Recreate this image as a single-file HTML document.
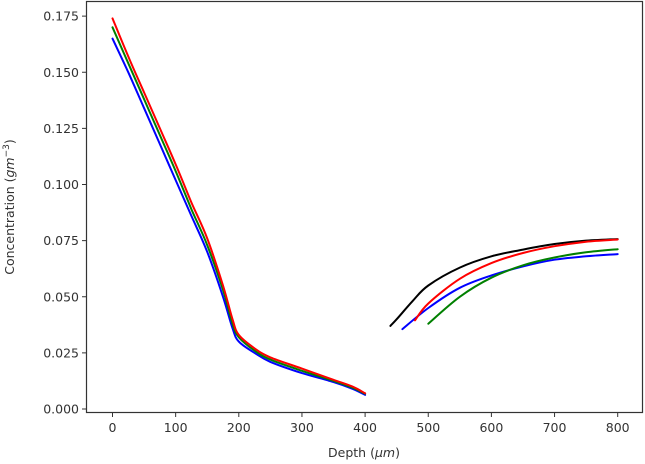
<!DOCTYPE html>
<html><head><meta charset="utf-8"><style>
body{margin:0;background:#fff}
svg{display:block;font-family:"DejaVu Sans","Liberation Sans",sans-serif}
</style></head><body>
<svg id="chart" width="645" height="464"></svg>
<script>
const xTicks=[0,100,200,300,400,500,600,700,800];
const yTicks=[0,0.025,0.05,0.075,0.1,0.125,0.15,0.175];
const yTickLabels=["0.000","0.025","0.050","0.075","0.100","0.125","0.150","0.175"];
const leftDepth=[0,25,50,75,100,125,150,175,190,200,225,250,300,350,380,400];
const leftRed=[0.174,0.157,0.141,0.125,0.109,0.092,0.076,0.055,0.040,0.033,0.027,0.023,0.018,0.013,0.010,0.007];
const leftGreen=[0.170,0.154,0.138,0.122,0.106,0.089,0.073,0.053,0.038,0.032,0.026,0.022,0.017,0.0125,0.0095,0.0068];
const leftBlue=[0.165,0.150,0.134,0.118,0.102,0.086,0.070,0.050,0.036,0.030,0.025,0.021,0.016,0.012,0.009,0.0063];
const blackDepth=[440,450,475,500,550,600,650,700,750,800];
const blackVals=[0.037,0.040,0.048,0.055,0.063,0.068,0.071,0.0735,0.075,0.0757];
const redDepth=[479,500,550,600,650,700,750,800];
const redVals=[0.0395,0.047,0.058,0.065,0.0695,0.0725,0.0745,0.0755];
const blueDepth=[459,500,550,600,650,700,750,800];
const blueVals=[0.0356,0.045,0.054,0.0595,0.0635,0.0665,0.068,0.069];
const greenDepth=[500,550,600,650,700,750,800];
const greenVals=[0.038,0.050,0.0585,0.064,0.0675,0.0698,0.0712];

const svg=document.getElementById('chart');
const NS='http://www.w3.org/2000/svg';
const X=d=>112.5+d*0.6315;
const Y=v=>409-v*2245;
function mk(tag,attrs,parent){const e=document.createElementNS(NS,tag);for(const k in attrs)e.setAttribute(k,attrs[k]);(parent||svg).appendChild(e);return e;}

function smoothPath(xs,ys){
  const p=xs.map((d,i)=>[X(d),Y(ys[i])]);
  let s='M'+p[0][0].toFixed(1)+','+p[0][1].toFixed(1);
  for(let i=0;i<p.length-1;i++){
    const p0=p[i-1]||p[i],p1=p[i],p2=p[i+1],p3=p[i+2]||p[i+1];
    const c1=[p1[0]+(p2[0]-p0[0])/6,p1[1]+(p2[1]-p0[1])/6];
    const c2=[p2[0]-(p3[0]-p1[0])/6,p2[1]-(p3[1]-p1[1])/6];
    s+=' C'+c1.map(v=>v.toFixed(1)).join(',')+' '+c2.map(v=>v.toFixed(1)).join(',')+' '+p2[0].toFixed(1)+','+p2[1].toFixed(1);
  }
  return s;
}
function line(xs,ys,color,name){
  const p=mk('path',{d:smoothPath(xs,ys),fill:'none',stroke:color,'stroke-width':2,'stroke-linejoin':'round','stroke-linecap':'round'});
  
  
}
line(leftDepth,leftBlue,'#0000ff','blue-line-left');
line(leftDepth,leftGreen,'#008000','green-line-left');
line(leftDepth,leftRed,'#ff0000','red-line-left');
line(blackDepth,blackVals,'#000000','black-line-right');
line(blueDepth,blueVals,'#0000ff','blue-line-right');
line(redDepth,redVals,'#ff0000','red-line-right');
line(greenDepth,greenVals,'#008000','green-line-right');

const frame=mk('rect',{x:86.5,y:1.5,width:556,height:411,fill:'none',stroke:'#333','stroke-width':1.2});



xTicks.forEach(t=>{
  mk('line',{x1:X(t),x2:X(t),y1:412.5,y2:417,stroke:'#333'});
  const tx=mk('text',{x:X(t),y:432,'text-anchor':'middle','font-size':12.5,fill:'#333'});
  tx.textContent=t;
  
  
});
yTicks.forEach((t,i)=>{
  mk('line',{x1:82,x2:86.5,y1:Y(t),y2:Y(t),stroke:'#333'});
  const tx=mk('text',{x:79,y:Y(t)+4.5,'text-anchor':'end','font-size':12.5,fill:'#333'});
  tx.textContent=yTickLabels[i];
  
  
});
const xl=mk('text',{x:364,y:457,'text-anchor':'middle','font-size':12.5,fill:'#333'});
xl.innerHTML='Depth (<tspan font-style="italic">μm</tspan>)';


const yl=mk('text',{x:0,y:0,'text-anchor':'middle','font-size':12.5,fill:'#333',transform:'translate(14,207) rotate(-90)'});
yl.innerHTML='Concentration (<tspan font-style="italic">gm</tspan><tspan dy="-5" font-size="9">−3</tspan><tspan dy="5">)</tspan>';


</script>
</body></html>
